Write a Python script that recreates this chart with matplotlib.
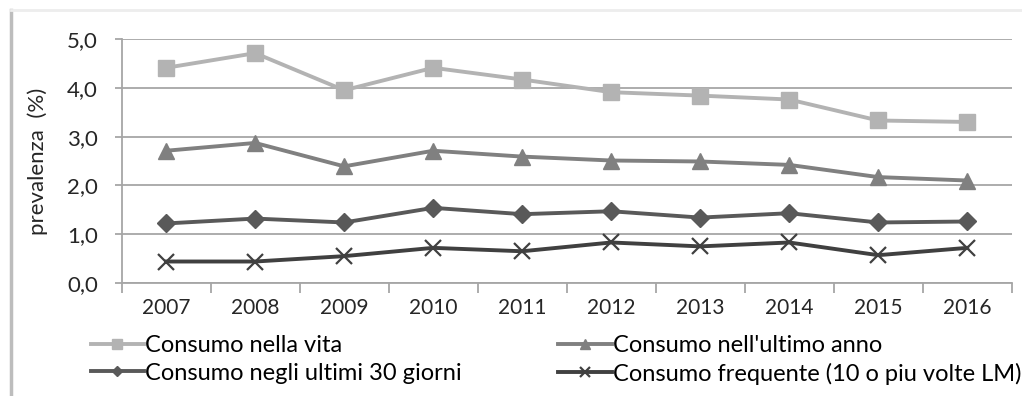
import matplotlib.pyplot as plt
from matplotlib.lines import Line2D
import numpy as np

plt.rcParams['font.family'] = ['Lato', 'DejaVu Sans']
plt.rcParams['font.size'] = 15

# Prevalenze per anno
anni = ['2007', '2008', '2009', '2010', '2011', '2012', '2013', '2014', '2015', '2016']
vita = [4.41, 4.71, 3.95, 4.41, 4.17, 3.91, 3.84, 3.76, 3.33, 3.30]
ultimo_anno = [2.71, 2.87, 2.39, 2.71, 2.59, 2.51, 2.49, 2.42, 2.17, 2.10]
ultimi_30 = [1.22, 1.32, 1.24, 1.54, 1.41, 1.47, 1.34, 1.43, 1.24, 1.26]
frequente = [0.44, 0.44, 0.55, 0.72, 0.65, 0.83, 0.75, 0.83, 0.57, 0.72]

fig = plt.figure(figsize=(10.22, 3.96), dpi=100)
ax = fig.add_axes([0.119, 0.2854, 0.871, 0.6161])

x = np.arange(len(anni))
l1, = ax.plot(x, vita, color='#b3b3b3', lw=2.8, marker='s', ms=12,
              label='Consumo nella vita')
l2, = ax.plot(x, ultimo_anno, color='#808080', lw=2.8, marker='^', ms=12,
              label="Consumo nell'ultimo anno")
l3, = ax.plot(x, ultimi_30, color='#595959', lw=2.8, marker='D', ms=9,
              label='Consumo negli ultimi 30 giorni')
l4, = ax.plot(x, frequente, color='#404040', lw=2.8, marker='x', ms=11, mew=1.6,
              label='Consumo frequente (10 o piu volte LM)')

ax.set_ylim(0, 5)
ax.set_xlim(-0.5, len(anni) - 0.5)
ax.set_yticks(np.arange(0, 5.1, 1.0))
ax.set_yticklabels([f'{v:.1f}'.replace('.', ',') for v in np.arange(0, 5.1, 1.0)])
ax.yaxis.grid(True, color='#a6a6a6', lw=1.3)
ax.set_axisbelow(True)

# etichette al centro, tacche tra le categorie
ax.set_xticks(np.arange(-0.5, len(anni), 1.0))
ax.set_xticklabels([])
ax.set_xticks(x, minor=True)
ax.set_xticklabels(anni, minor=True)
ax.tick_params(axis='x', which='major', length=7, color='#a6a6a6', width=1.3)
ax.tick_params(axis='x', which='minor', length=0, pad=11, labelsize=15, colors='#262626')
ax.tick_params(axis='y', length=5, color='#a6a6a6', width=1.3, labelsize=16,
               labelcolor='#262626', pad=12)

for s in ['top', 'right']:
    ax.spines[s].set_visible(False)
for s in ['left', 'bottom']:
    ax.spines[s].set_color('#a6a6a6')
    ax.spines[s].set_linewidth(1.3)

ax.set_ylabel('prevalenza  (%)', fontsize=16, color='#262626', labelpad=14)

fig.legend([l1, l3, l2, l4], [l.get_label() for l in [l1, l3, l2, l4]],
           ncol=2, loc='lower left', bbox_to_anchor=(0.068, -0.025),
           frameon=False, handlelength=2.25, handletextpad=0.05,
           columnspacing=4.1, labelspacing=0.27, fontsize=17,
           markerscale=0.6)

# cornice con ombra
fig.add_artist(Line2D([0.011, 0.011], [0.0, 0.975], transform=fig.transFigure,
                      color='#bdbdbd', lw=2.5))
fig.add_artist(Line2D([0.011, 1.0], [0.975, 0.975], transform=fig.transFigure,
                      color='#ededed', lw=2))

fig.savefig('out.png', dpi=100)
